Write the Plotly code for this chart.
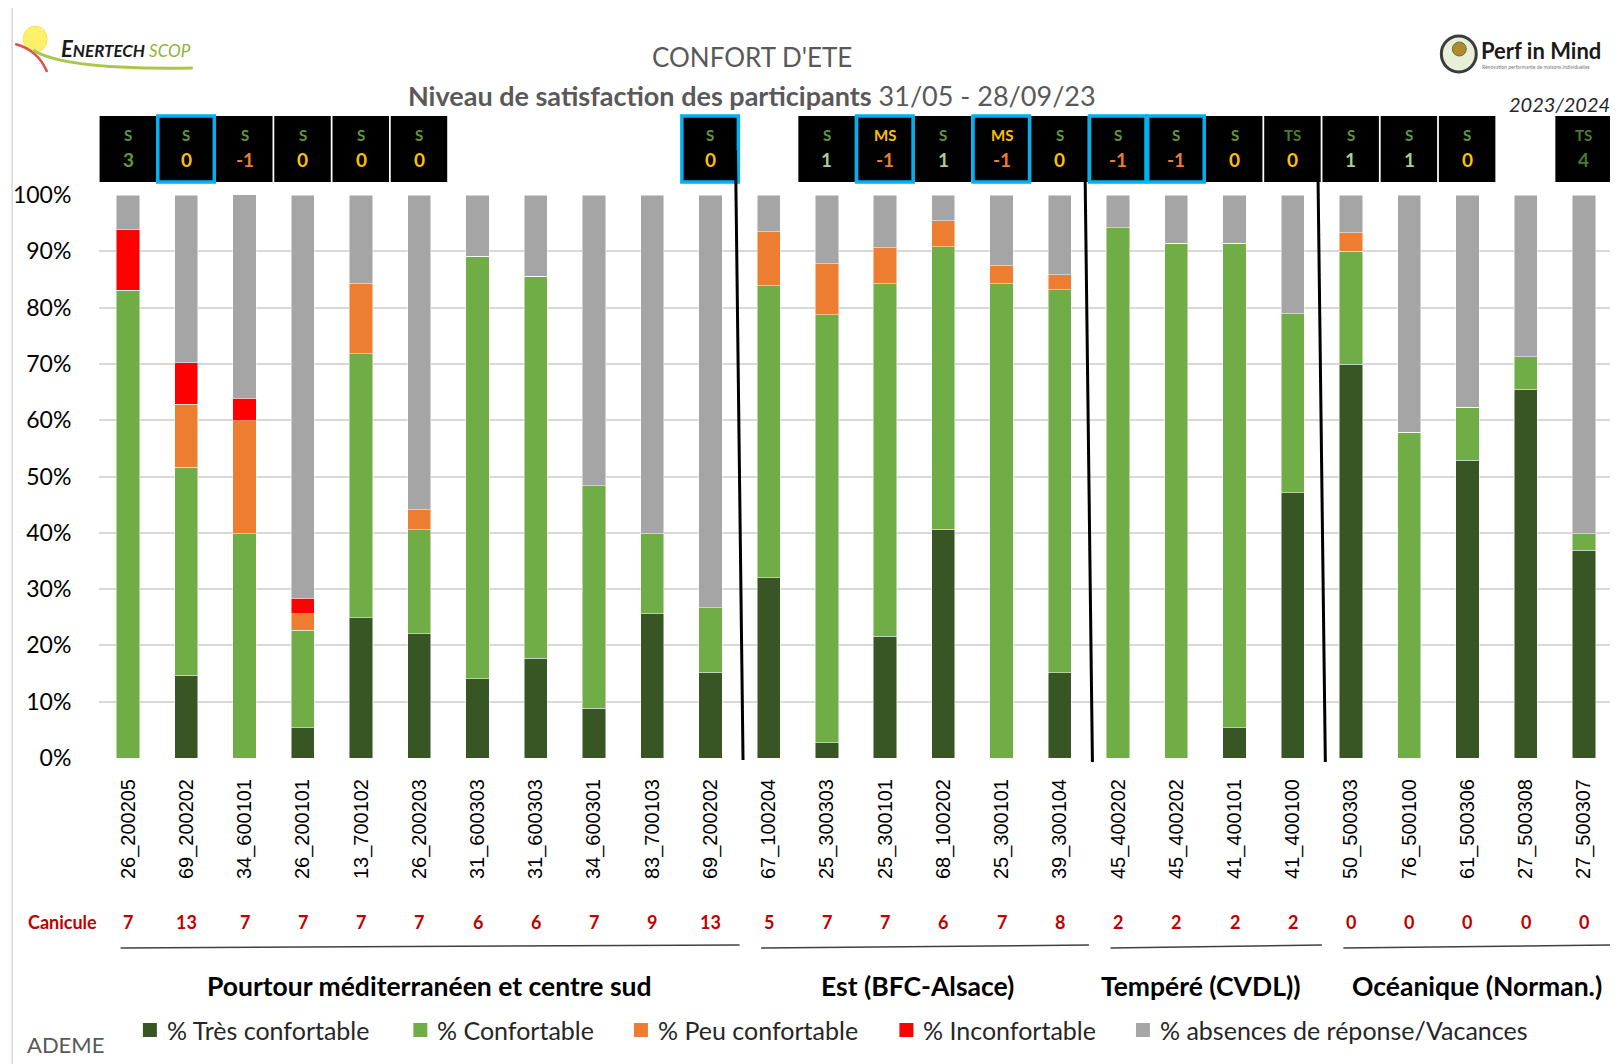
import plotly.graph_objects as go

# ---------------- data ----------------
ids = ["26_200205", "69_200202", "34_600101", "26_200101", "13_700102", "26_200203",
       "31_600303", "31_600303", "34_600301", "83_700103", "69_200202",
       "67_100204", "25_300303", "25_300101", "68_100202", "25_300101", "39_300104",
       "45_400202", "45_400202", "41_400101", "41_400100",
       "50_500303", "76_500100", "61_500306", "27_500308", "27_500307"]

tres_conf = [0, 14.7, 0, 5.4, 24.9, 22.1, 14.1, 17.7, 8.8, 25.6, 15.2,
             32.0, 2.7, 21.6, 40.6, 0, 15.1,
             0, 0, 5.4, 47.1,
             69.9, 0, 52.9, 65.5, 36.9]
confort = [83.1, 36.9, 39.8, 17.3, 46.9, 18.4, 75.0, 67.9, 39.6, 14.2, 11.5,
           51.9, 76.0, 62.6, 50.2, 84.2, 68.1,
           94.2, 91.4, 86.0, 31.8,
           20.1, 57.9, 9.4, 5.8, 2.9]
peu_conf = [0, 11.2, 20.1, 2.9, 12.4, 3.6, 0, 0, 0, 0, 0,
            9.6, 9.1, 6.4, 4.6, 3.2, 2.6,
            0, 0, 0, 0,
            3.3, 0, 0, 0, 0]
inconf = [10.7, 7.4, 4.0, 2.8, 0, 0, 0, 0, 0, 0, 0,
          0, 0, 0, 0, 0, 0,
          0, 0, 0, 0,
          0, 0, 0, 0, 0]
absences = [6.2, 29.8, 36.2, 71.6, 15.8, 55.9, 10.9, 14.4, 51.6, 60.2, 73.3,
            6.5, 12.2, 9.4, 4.6, 12.6, 14.2,
            5.8, 8.6, 8.6, 21.1,
            6.7, 42.1, 37.7, 28.7, 60.2]

canicule = [7, 13, 7, 7, 7, 7, 6, 6, 7, 9, 13,
            5, 7, 7, 6, 7, 8,
            2, 2, 2, 2,
            0, 0, 0, 0, 0]

box_letters = ["S", "S", "S", "S", "S", "S", None, None, None, None, "S",
               None, "S", "MS", "S", "MS", "S",
               "S", "S", "S", "TS",
               "S", "S", "S", None, "TS"]
box_values = [3, 0, -1, 0, 0, 0, None, None, None, None, 0,
              None, 1, -1, 1, -1, 0,
              -1, -1, 0, 0,
              1, 1, 0, None, 4]
box_highlight = [False, True, False, False, False, False, False, False, False, False, True,
                 False, False, True, False, True, False,
                 True, True, False, False,
                 False, False, False, False, False]

groups = ["Pourtour méditerranéen et centre sud", "Est (BFC-Alsace)",
          "Tempéré (CVDL))", "Océanique (Norman.)"]
group_start = [0, 11, 17, 21]
group_end = [10, 16, 20, 25]

y_ticks = [0, 10, 20, 30, 40, 50, 60, 70, 80, 90, 100]
y_tick_text = [f"{v}%" for v in y_ticks]

series = [
    ("% Très confortable", tres_conf, "#375623"),
    ("% Confortable", confort, "#70ad47"),
    ("% Peu confortable", peu_conf, "#ed7d31"),
    ("% Inconfortable", inconf, "#ff0000"),
    ("% absences de réponse/Vacances", absences, "#a5a5a5"),
]

# ---------------- layout geometry ----------------
legend_x_px = [140, 411, 632, 898, 1135]        # page-pixel left edge of legend squares
group_label_shift = [0.17, 0.06, -0.08, 0.17]   # label offset from group centre (category units)

# page has an 8px body margin; plot area in page pixels: x 96..1613, y 195..758
OFF = 8
W, H = 1618 - OFF, 1064 - OFF
L, R, T, B = 96 - OFF, 5, 195 - OFF, 306
PW, PH = W - L - R, H - T - B


def px(x):
    return (x - OFF - L) / PW


def py(y):
    return (OFF + H - B - y) / PH


FONT = "Lato"
xs = list(range(len(ids)))

fig = go.Figure()
for name, vals, col in series:
    fig.add_trace(go.Bar(
        x=xs, y=vals, name=name, width=0.4, showlegend=False,
        marker=dict(color=col, line=dict(color="rgba(255,255,255,0.6)", width=0.8)),
    ))

shapes = []
annotations = []


def ann(x, y, text, size, color, xref="paper", xanchor="center", yanchor="middle", family=FONT):
    annotations.append(dict(x=x, y=y, xref=xref, yref="paper", text=text, showarrow=False,
                            xanchor=xanchor, yanchor=yanchor,
                            font=dict(family=family, size=size, color=color)))


# top boxes
num_colors = {3: "#5f9e3c", 4: "#4a7a2c", 1: "#a9d18e", 0: "#ffc000", -1: "#ed7d31"}
let_colors = {"S": "#5f9a3a", "MS": "#ffc000", "TS": "#4f7a2e"}
for i, (lt, v, hl) in enumerate(zip(box_letters, box_values, box_highlight)):
    if lt is None:
        continue
    shapes.append(dict(type="rect", xref="x", yref="paper",
                       x0=i - 0.49, x1=i + 0.48, y0=py(182), y1=py(116),
                       fillcolor="black",
                       line=dict(color="#00b0f0" if hl else "black", width=3.5 if hl else 0)))
    ann(i, py(135), f"<b>{lt}</b>", 15, let_colors[lt], xref="x")
    ann(i, py(160), f"<b>{v}</b>", 19, num_colors[v], xref="x")

# separator lines (slanted)
for s, (top, bot) in zip([10.5, 16.5, 20.5], [(150, 760), (154, 762), (157, 762)]):
    shapes.append(dict(type="line", xref="x", yref="paper",
                       x0=s - 0.07, x1=s + 0.06, y0=py(top), y1=py(bot),
                       line=dict(color="black", width=3)))

# canicule row
ann(px(23), py(922), "<b>Canicule</b>", 18, "#c00000", xanchor="left")
for i, c in enumerate(canicule):
    ann(i, py(922), f"<b>{c}</b>", 18, "#c00000", xref="x")

# group underlines and labels
for g, s, e, sh in zip(groups, group_start, group_end, group_label_shift):
    shapes.append(dict(type="line", xref="x", yref="paper",
                       x0=s - 0.13, x1=e + 0.5, y0=py(948), y1=py(945),
                       line=dict(color="#404040", width=1.5)))
    ann((s + e) / 2 + sh, py(986), f"<b>{g}</b>", 26.5, "black", xref="x")

# manual legend
for (name, _, col), lx in zip(series, legend_x_px):
    shapes.append(dict(type="rect", xref="paper", yref="paper",
                       x0=px(lx), x1=px(lx + 14), y0=py(1037), y1=py(1023),
                       fillcolor=col, line=dict(width=0)))
    ann(px(lx + 22), py(1030), name, 25, "#262626", xanchor="left")

# titles
ann(px(750), py(57), "CONFORT D'ETE", 26, "#595959")
ann(px(750), py(95), "<b>Niveau de satisfaction des participants</b> 31/05 - 28/09/23", 27, "#595959")
ann(px(1612), py(104), "<i>2023/2024</i>", 20, "#262626", xanchor="right")
ann(px(22), py(1044), "ADEME", 22, "#595959", xanchor="left")

# Enertech logo (approximation)
shapes.append(dict(type="circle", xref="paper", yref="paper",
                   x0=px(20), x1=px(44), y0=py(52), y1=py(26),
                   fillcolor="#fff06a", line=dict(color="#ffe24a", width=1)))
shapes.append(dict(type="path", xref="paper", yref="paper",
                   path=f"M {px(12)},{py(44)} Q {px(35)},{py(50)} {px(44)},{py(72)}",
                   line=dict(color="#d9534f", width=2.5)))
shapes.append(dict(type="path", xref="paper", yref="paper",
                   path=f"M {px(30)},{py(50)} Q {px(60)},{py(70)} {px(190)},{py(68)}",
                   line=dict(color="#a8c84a", width=3)))
ann(px(56), py(48), "<i><b><span style='font-size:22px'>E</span>NERTECH</b> "
                    "<span style='color:#8db33a'>SCOP</span></i>", 17, "#1a1a1a", xanchor="left")

# Perf in Mind logo (approximation)
shapes.append(dict(type="circle", xref="paper", yref="paper",
                   x0=px(1441), x1=px(1476), y0=py(72), y1=py(36),
                   fillcolor="#e8efd8", line=dict(color="#3b3b3b", width=3)))
shapes.append(dict(type="circle", xref="paper", yref="paper",
                   x0=px(1452), x1=px(1466), y0=py(56), y1=py(42),
                   fillcolor="#b08a2c", line=dict(color="#5a7a2e", width=1)))
shapes.append(dict(type="rect", xref="paper", yref="paper",
                   x0=px(1611), x1=px(1620), y0=py(64), y1=py(40),
                   fillcolor="#ffc000", line=dict(width=0)))
ann(px(1479), py(50), "<b>Perf in Mind</b>", 22, "#1a1a1a", xanchor="left")
ann(px(1480), py(67), "Rénovation performante de maisons individuelles", 5, "#777777", xanchor="left")

# outer frame
shapes.append(dict(type="rect", xref="paper", yref="paper",
                   x0=px(9), x1=px(1640), y0=py(1090), y1=py(5),
                   line=dict(color="#d9d9d9", width=1.5), layer="below"))

fig.update_layout(
    width=W, height=H,
    margin=dict(l=L, r=R, t=T, b=B),
    barmode="stack",
    bargap=0.6,
    plot_bgcolor="white",
    paper_bgcolor="white",
    font=dict(family=FONT, color="#262626"),
    showlegend=False,
    xaxis=dict(tickmode="array", tickvals=xs, ticktext=ids, tickangle=-90,
               range=[-0.5, len(ids) - 0.5], showgrid=False, zeroline=False,
               showline=False, ticks="outside", ticklen=12, tickcolor="rgba(0,0,0,0)",
               tickfont=dict(family="Liberation Sans", size=20, color="black")),
    yaxis=dict(range=[0, 100], tickvals=y_ticks, ticktext=y_tick_text,
               showgrid=True, gridcolor="#d9d9d9", gridwidth=1.5, zeroline=False,
               showline=False, ticks="outside", ticklen=22, tickcolor="rgba(0,0,0,0)",
               tickfont=dict(family=FONT, size=23, color="black")),
    shapes=shapes,
    annotations=annotations,
)

fig.write_html("out.html")
